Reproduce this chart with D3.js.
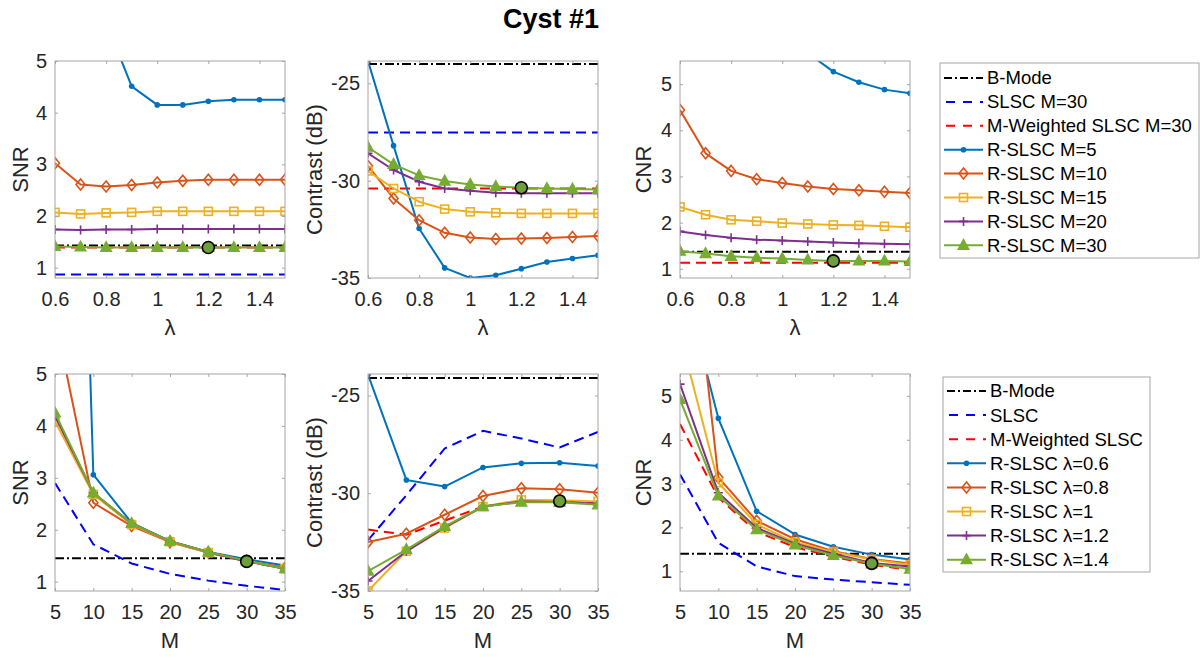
<!DOCTYPE html>
<html><head><meta charset="utf-8">
<script src="https://cdn.jsdelivr.net/npm/d3@7"></script>
<style>body{margin:0;background:#fff}svg{font-family:"Liberation Sans",Arial,sans-serif}</style>
</head><body><svg id="c" width="1200" height="658"></svg>
<script>
// ---------- data ----------
const lambdaVals = [0.6, 0.7, 0.8, 0.9, 1.0, 1.1, 1.2, 1.3, 1.4, 1.5];
const mVals = [5, 10, 15, 20, 25, 30, 35];
const lambdaTicks = [0.6, 0.8, 1, 1.2, 1.4];
const mTicks = [5, 10, 15, 20, 25, 30, 35];
const snrTicks = [1, 2, 3, 4, 5];
const contrastTicks = [-35, -30, -25];
const cnrTicks = [1, 2, 3, 4, 5];

const topLegendLabels = ["B-Mode", "SLSC M=30", "M-Weighted SLSC M=30", "R-SLSC M=5", "R-SLSC M=10", "R-SLSC M=15", "R-SLSC M=20", "R-SLSC M=30"];
const bottomLegendLabels = ["B-Mode", "SLSC", "M-Weighted SLSC", "R-SLSC λ=0.6", "R-SLSC λ=0.8", "R-SLSC λ=1", "R-SLSC λ=1.2", "R-SLSC λ=1.4"];

// SNR vs lambda (rows: M=5,10,15,20,30)
const snrLambdaBMode = 1.43, snrLambdaSLSC = 0.87, snrLambdaMW = 1.39;
const snrLambda = [
  [9.0, 7.0, 5.75, 4.51, 4.15, 4.15, 4.22, 4.25, 4.25, 4.25],
  [3.02, 2.61, 2.57, 2.60, 2.65, 2.68, 2.70, 2.70, 2.70, 2.70],
  [2.07, 2.04, 2.06, 2.07, 2.09, 2.09, 2.09, 2.09, 2.09, 2.09],
  [1.74, 1.73, 1.74, 1.74, 1.75, 1.75, 1.75, 1.75, 1.75, 1.75],
  [1.41, 1.40, 1.39, 1.39, 1.39, 1.39, 1.39, 1.39, 1.39, 1.39]
];
// Contrast vs lambda
const conLambdaBMode = -24.0, conLambdaSLSC = -27.53, conLambdaMW = -30.4;
const conLambda = [
  [-23.85, -28.2, -32.46, -34.48, -35.0, -34.86, -34.52, -34.18, -34.0, -33.83],
  [-29.24, -30.91, -32.03, -32.68, -32.92, -33.0, -32.97, -32.94, -32.89, -32.84],
  [-29.5, -30.4, -31.08, -31.46, -31.6, -31.65, -31.68, -31.68, -31.68, -31.68],
  [-28.59, -29.45, -30.05, -30.4, -30.52, -30.62, -30.65, -30.65, -30.65, -30.65],
  [-28.28, -29.16, -29.73, -30.02, -30.19, -30.3, -30.36, -30.4, -30.43, -30.45]
];
// CNR vs lambda
const cnrLambdaBMode = 1.37, cnrLambdaSLSC = 0.75, cnrLambdaMW = 1.13;
const cnrLambda = [
  [11.0, 9.0, 7.8, 6.9, 6.2, 5.67, 5.27, 5.04, 4.88, 4.8],
  [4.44, 3.50, 3.12, 2.94, 2.86, 2.78, 2.73, 2.70, 2.67, 2.64],
  [2.34, 2.17, 2.06, 2.03, 1.99, 1.97, 1.95, 1.94, 1.92, 1.90],
  [1.81, 1.73, 1.67, 1.63, 1.61, 1.59, 1.57, 1.55, 1.54, 1.53],
  [1.38, 1.33, 1.27, 1.24, 1.22, 1.19, 1.17, 1.17, 1.17, 1.16]
];
// SNR vs M (rows: lambda=0.6,0.8,1,1.2,1.4)
const snrMBMode = 1.45;
const snrMSLSC = [2.9, 1.72, 1.35, 1.15, 1.02, 0.92, 0.84];
const snrMMW = [4.2, 2.7, 2.11, 1.77, 1.56, 1.39, 1.25];
const snrM = [
  [27, 3.06, 2.13, 1.78, 1.57, 1.43, 1.31],
  [6.08, 2.52, 2.07, 1.76, 1.56, 1.40, 1.27],
  [4.09, 2.68, 2.10, 1.77, 1.56, 1.40, 1.25],
  [4.19, 2.71, 2.12, 1.78, 1.57, 1.39, 1.25],
  [4.25, 2.71, 2.12, 1.78, 1.57, 1.40, 1.25]
];
// Contrast vs M
const conMBMode = -24.1;
const conMSLSC = [-32.4, -30.1, -27.71, -26.81, -27.2, -27.66, -26.86];
const conMMW = [-31.86, -32.12, -31.4, -30.68, -30.42, -30.42, -30.5];
const conM = [
  [-23.93, -29.32, -29.66, -28.68, -28.47, -28.44, -28.61],
  [-32.5, -32.07, -31.1, -30.14, -29.75, -29.8, -29.97],
  [-35.0, -32.97, -31.78, -30.68, -30.34, -30.36, -30.42],
  [-34.49, -32.97, -31.75, -30.68, -30.42, -30.45, -30.54],
  [-33.98, -32.88, -31.69, -30.68, -30.46, -30.46, -30.59]
];
// CNR vs M
const cnrMBMode = 1.40;
const cnrMSLSC = [3.21, 1.65, 1.11, 0.89, 0.81, 0.75, 0.69];
const cnrMMW = [4.36, 2.68, 1.90, 1.55, 1.33, 1.15, 1.03];
const cnrM = [
  [7.9, 4.49, 2.37, 1.84, 1.56, 1.38, 1.27],
  [11.0, 3.14, 2.15, 1.73, 1.46, 1.28, 1.18],
  [6.4, 3.02, 2.07, 1.66, 1.44, 1.27, 1.15],
  [5.27, 2.79, 1.99, 1.63, 1.40, 1.19, 1.11],
  [4.92, 2.72, 1.95, 1.60, 1.36, 1.17, 1.05]
];
// optimum markers (lambda=1.2, M=30)
const optLambda = 1.2, optM = 30;
const optTop = [1.39, -30.36, 1.17];
const optBottom = [1.39, -30.4, 1.18];

// ---------- styles ----------
const seriesColors = ["#0072BD", "#D95319", "#EDB120", "#7E2F8E", "#77AC30"];
const seriesMarkers = ["dot", "diamond", "square", "plus", "triangle"];
const refStyles = [
  {color: "#000000", dash: "9,3,2,3"},
  {color: "#0000FF", dash: "10,6"},
  {color: "#FF0000", dash: "10,6"}
];

const svg = d3.select("#c");
const W = 230, H = 217;
const colX = [55, 368, 680];
const rowY = [61, 374];

svg.append("text").attr("x", 551).attr("y", 28).attr("text-anchor", "middle")
  .attr("font-size", 27).attr("font-weight", "bold").attr("fill", "#000").text("Cyst #1");

function drawMarker(g, type, color, x, y) {
  if (type === "dot") {
    g.append("circle").attr("cx", x).attr("cy", y).attr("r", 2.8).attr("fill", color);
  } else if (type === "diamond") {
    g.append("path").attr("d", `M${x},${y-5.5}L${x+4.5},${y}L${x},${y+5.5}L${x-4.5},${y}Z`)
      .attr("fill", "none").attr("stroke", color).attr("stroke-width", 1.6);
  } else if (type === "square") {
    g.append("rect").attr("x", x-4).attr("y", y-4).attr("width", 8).attr("height", 8)
      .attr("fill", "none").attr("stroke", color).attr("stroke-width", 1.6);
  } else if (type === "plus") {
    g.append("path").attr("d", `M${x-4.5},${y}H${x+4.5}M${x},${y-4.5}V${y+4.5}`)
      .attr("stroke", color).attr("stroke-width", 1.6);
  } else if (type === "triangle") {
    g.append("path").attr("d", `M${x},${y-6}L${x+5.5},${y+4}L${x-5.5},${y+4}Z`)
      .attr("fill", color).attr("stroke", color).attr("stroke-width", 1.2);
  }
}

let clipId = 0;
function panel(cfg) {
  const x0 = colX[cfg.col], y0 = rowY[cfg.row];
  const g = svg.append("g").attr("transform", `translate(${x0},${y0})`);
  const xs = d3.scaleLinear().domain(cfg.xDomain).range([0, W]);
  const ys = d3.scaleLinear().domain(cfg.yDomain).range([H, 0]);
  const id = "clip" + (clipId++);
  g.append("clipPath").attr("id", id).append("rect").attr("x", 0).attr("y", 0).attr("width", W).attr("height", H);
  const plot = g.append("g").attr("clip-path", `url(#${id})`);

  const line = d3.line().x(d => xs(d[0])).y(d => ys(d[1]));
  cfg.refs.forEach((r, i) => {
    const pts = Array.isArray(r) ? cfg.xVals.map((x, j) => [x, r[j]]) : [[cfg.xDomain[0], r], [cfg.xDomain[1], r]];
    plot.append("path").attr("d", line(pts)).attr("fill", "none")
      .attr("stroke", refStyles[i].color).attr("stroke-width", 2).attr("stroke-dasharray", refStyles[i].dash);
  });
  cfg.series.forEach((s, i) => {
    const pts = cfg.xVals.map((x, j) => [x, s[j]]);
    plot.append("path").attr("d", line(pts)).attr("fill", "none")
      .attr("stroke", seriesColors[i]).attr("stroke-width", 2).attr("stroke-linejoin", "round");
    pts.forEach(p => drawMarker(plot, seriesMarkers[i], seriesColors[i], xs(p[0]), ys(p[1])));
  });
  plot.append("circle").attr("cx", xs(cfg.opt[0])).attr("cy", ys(cfg.opt[1])).attr("r", 6)
    .attr("fill", "#6f9e3c").attr("stroke", "#000").attr("stroke-width", 1.6);

  const axisColor = "#a6a6a6";
  g.append("rect").attr("x", 0).attr("y", 0).attr("width", W).attr("height", H)
    .attr("fill", "none").attr("stroke", axisColor).attr("stroke-width", 1);
  const fmt = d => String(+d.toFixed(2));
  const xAxB = d3.axisBottom(xs).tickValues(cfg.xTicks).tickSizeInner(-3).tickSizeOuter(0).tickPadding(14).tickFormat(fmt);
  const ax = g.append("g").attr("transform", `translate(0,${H})`).call(xAxB);
  const xAxT = d3.axisTop(xs).tickValues(cfg.xTicks).tickSizeInner(-3).tickSizeOuter(0).tickFormat("");
  g.append("g").call(xAxT);
  const yAxL = d3.axisLeft(ys).tickValues(cfg.yTicks).tickSizeInner(-3).tickSizeOuter(0).tickPadding(8).tickFormat(fmt);
  g.append("g").call(yAxL);
  const yAxR = d3.axisRight(ys).tickValues(cfg.yTicks).tickSizeInner(-3).tickSizeOuter(0).tickFormat("");
  g.append("g").attr("transform", `translate(${W},0)`).call(yAxR);
  g.selectAll(".domain").remove();
  g.selectAll(".tick line").attr("stroke", axisColor);
  g.selectAll(".tick text").attr("fill", "#262626").attr("font-size", 20)
    .attr("font-family", '"Liberation Sans",Arial,sans-serif');
  ax.selectAll(".tick text").attr("dy", "0.71em").attr("y", 14);

  g.append("text").attr("x", W / 2).attr("y", H + 57).attr("text-anchor", "middle")
    .attr("font-size", 22).attr("fill", "#262626").text(cfg.xLabel);
  g.append("text").attr("transform", `translate(${-cfg.yLabelOff},${H / 2}) rotate(-90)`)
    .attr("text-anchor", "middle").attr("font-size", 22).attr("fill", "#262626").text(cfg.yLabel);
}

panel({col: 0, row: 0, xVals: lambdaVals, xDomain: [0.6, 1.5], yDomain: [0.8, 5], xTicks: lambdaTicks, yTicks: snrTicks,
  refs: [snrLambdaBMode, snrLambdaSLSC, snrLambdaMW], series: snrLambda, opt: [optLambda, optTop[0]],
  xLabel: "λ", yLabel: "SNR", yLabelOff: 27});
panel({col: 1, row: 0, xVals: lambdaVals, xDomain: [0.6, 1.5], yDomain: [-35, -23.85], xTicks: lambdaTicks, yTicks: contrastTicks,
  refs: [conLambdaBMode, conLambdaSLSC, conLambdaMW], series: conLambda, opt: [optLambda, optTop[1]],
  xLabel: "λ", yLabel: "Contrast (dB)", yLabelOff: 46});
panel({col: 2, row: 0, xVals: lambdaVals, xDomain: [0.6, 1.5], yDomain: [0.8, 5.5], xTicks: lambdaTicks, yTicks: cnrTicks,
  refs: [cnrLambdaBMode, cnrLambdaSLSC, cnrLambdaMW], series: cnrLambda, opt: [optLambda, optTop[2]],
  xLabel: "λ", yLabel: "CNR", yLabelOff: 29});
panel({col: 0, row: 1, xVals: mVals, xDomain: [5, 35], yDomain: [0.82, 5], xTicks: mTicks, yTicks: snrTicks,
  refs: [snrMBMode, snrMSLSC, snrMMW], series: snrM, opt: [optM, optBottom[0]],
  xLabel: "M", yLabel: "SNR", yLabelOff: 27});
panel({col: 1, row: 1, xVals: mVals, xDomain: [5, 35], yDomain: [-35, -23.9], xTicks: mTicks, yTicks: contrastTicks,
  refs: [conMBMode, conMSLSC, conMMW], series: conM, opt: [optM, optBottom[1]],
  xLabel: "M", yLabel: "Contrast (dB)", yLabelOff: 46});
panel({col: 2, row: 1, xVals: mVals, xDomain: [5, 35], yDomain: [0.55, 5.5], xTicks: mTicks, yTicks: cnrTicks,
  refs: [cnrMBMode, cnrMSLSC, cnrMMW], series: cnrM, opt: [optM, optBottom[2]],
  xLabel: "M", yLabel: "CNR", yLabelOff: 29});

function legend(x, y, w, h, labels, firstOff, step) {
  const g = svg.append("g").attr("transform", `translate(${x},${y})`);
  g.append("rect").attr("width", w).attr("height", h).attr("fill", "#fff").attr("stroke", "#a6a6a6").attr("stroke-width", 1);
  labels.forEach((lab, i) => {
    const yy = firstOff + i * step;
    if (i < 3) {
      g.append("line").attr("x1", 4).attr("x2", 43).attr("y1", yy).attr("y2", yy)
        .attr("stroke", refStyles[i].color).attr("stroke-width", 2)
        .attr("stroke-dasharray", i === 0 ? "8,3,2,3" : "9,8").attr("stroke-dashoffset", i === 0 ? 0 : -2);
    } else {
      const k = i - 3;
      g.append("line").attr("x1", 4).attr("x2", 43).attr("y1", yy).attr("y2", yy)
        .attr("stroke", seriesColors[k]).attr("stroke-width", 2);
      drawMarker(g, seriesMarkers[k], seriesColors[k], 23.5, yy);
    }
    g.append("text").attr("x", 47).attr("y", yy).attr("dy", "0.35em").attr("font-size", 18.5)
      .attr("fill", "#000").text(lab);
  });
}
legend(940, 63, 259, 195, topLegendLabels, 15, 23.9);
legend(943, 377, 207, 195, bottomLegendLabels, 14, 24.1);
</script></body></html>
